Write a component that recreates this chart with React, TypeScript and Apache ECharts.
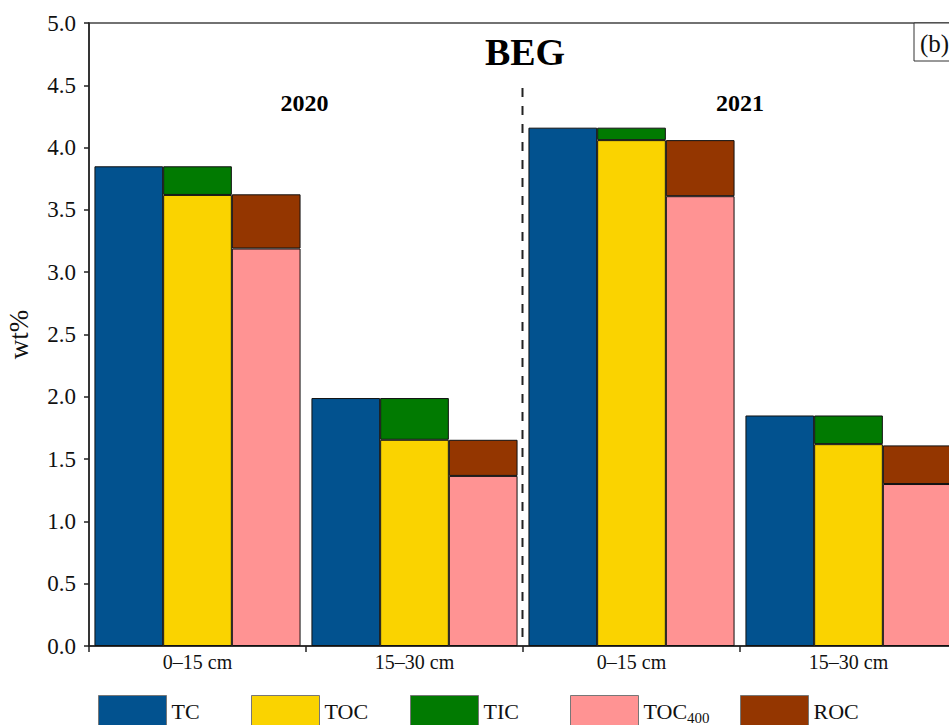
import React, { useEffect, useRef } from "react";
import * as echarts from "echarts";

// Soil carbon fractions (wt%) for the BEG site, two sampling years x two depths
const years = ["2020", "2021"];
const categories = ["2020|0–15 cm", "2020|15–30 cm", "2021|0–15 cm", "2021|15–30 cm"];

const tcValues = [3.85, 1.99, 4.16, 1.85];
const tocValues = [3.62, 1.655, 4.06, 1.62];
const ticValues = [0.23, 0.335, 0.1, 0.23];
const toc400Values = [3.19, 1.365, 3.61, 1.3];
const rocValues = [0.435, 0.29, 0.45, 0.31];

const yTicks = { min: 0, max: 5, interval: 0.5 };

const SERIF = "'Liberation Serif', 'Times New Roman', serif";

const COLORS = {
  TC: "#02528f",
  TOC: "#fad300",
  TIC: "#017a01",
  TOC400: "#ff9393",
  ROC: "#943600",
};

export default function App() {
  const ref = useRef<HTMLDivElement>(null);

  useEffect(() => {
    if (!ref.current) return;
    const chart = echarts.init(ref.current, undefined, { renderer: "svg" });

    const barWidth = 68.7;
    const barBase = {
      type: "bar" as const,
      barWidth,
      barGap: "0%",
      itemStyle: { borderColor: "#111", borderWidth: 1 },
    };

    const legendBase = {
      top: 695,
      padding: 0,
      itemWidth: 68,
      itemHeight: 32,
      icon: "rect",
      itemStyle: { borderColor: "#777", borderWidth: 1 },
      textStyle: {
        fontFamily: SERIF,
        fontSize: 22,
        color: "#111",
        rich: {
          m: { fontFamily: SERIF, fontSize: 22, color: "#111", verticalAlign: "middle" },
          s: { fontFamily: SERIF, fontSize: 15, color: "#111", verticalAlign: "bottom", lineHeight: 27 },
        },
      },
      formatter: (name: string) => (name === "TOC400" ? "{m|TOC}{s|400}" : name),
    };

    chart.setOption({
      animation: false,
      backgroundColor: "#fff",
      title: {
        text: "BEG",
        left: 520,
        top: 28,
        textAlign: "center",
        textStyle: { fontFamily: SERIF, fontSize: 38, fontWeight: "bold", color: "#000" },
      },
      grid: {
        left: 89,
        right: 43,
        top: 23,
        bottom: 79,
        show: true,
        borderColor: "#444",
        borderWidth: 1.5,
        outerBoundsMode: "none",
      },
      legend: [
        { ...legendBase, left: 98, data: ["TC"] },
        { ...legendBase, left: 251, data: ["TOC"] },
        { ...legendBase, left: 410, data: ["TIC"] },
        { ...legendBase, left: 570, data: ["TOC400"] },
        { ...legendBase, left: 740, data: ["ROC"] },
      ],
      xAxis: {
        type: "category",
        data: categories,
        boundaryGap: true,
        axisLine: { show: true, lineStyle: { color: "#222", width: 1.5 } },
        axisTick: { show: true, length: 6, lineStyle: { color: "#222", width: 1.5 } },
        axisLabel: {
          margin: 6,
          fontFamily: SERIF,
          fontSize: 20,
          color: "#111",
          formatter: (v: string) => v.split("|")[1],
        },
        splitLine: { show: false },
      },
      yAxis: {
        type: "value",
        min: yTicks.min,
        max: yTicks.max,
        interval: yTicks.interval,
        name: "wt%",
        nameLocation: "middle",
        nameGap: 57,
        nameTextStyle: { fontFamily: SERIF, fontSize: 27, color: "#111" },
        axisLine: { show: true, lineStyle: { color: "#222", width: 1.5 } },
        axisTick: { show: true, length: 5, lineStyle: { color: "#222", width: 1.5 } },
        axisLabel: {
          margin: 13,
          fontFamily: SERIF,
          fontSize: 23,
          color: "#111",
          formatter: (v: number) => v.toFixed(1),
        },
        splitLine: { show: false },
      },
      series: [
        { ...barBase, name: "TC", data: tcValues, itemStyle: { ...barBase.itemStyle, color: COLORS.TC } },
        { ...barBase, name: "TOC", stack: "organic", data: tocValues, itemStyle: { ...barBase.itemStyle, color: COLORS.TOC } },
        { ...barBase, name: "TIC", stack: "organic", data: ticValues, itemStyle: { ...barBase.itemStyle, color: COLORS.TIC } },
        { ...barBase, name: "TOC400", stack: "residual", data: toc400Values, itemStyle: { ...barBase.itemStyle, color: COLORS.TOC400 } },
        { ...barBase, name: "ROC", stack: "residual", data: rocValues, itemStyle: { ...barBase.itemStyle, color: COLORS.ROC } },
      ],
      graphic: [
        // divider between sampling years
        {
          type: "line",
          shape: { x1: 522.5, y1: 88, x2: 522.5, y2: 646 },
          style: { stroke: "#222", lineWidth: 2, lineDash: [9, 9] },
          z: 10,
        },
        {
          type: "text",
          x: 304.5,
          y: 103,
          style: {
            text: years[0],
            fontFamily: SERIF,
            fontSize: 24,
            fontWeight: "bold",
            fill: "#000",
            align: "center",
            verticalAlign: "middle",
          },
        },
        {
          type: "text",
          x: 740,
          y: 103,
          style: {
            text: years[1],
            fontFamily: SERIF,
            fontSize: 24,
            fontWeight: "bold",
            fill: "#000",
            align: "center",
            verticalAlign: "middle",
          },
        },
        // panel tag
        {
          type: "rect",
          shape: { x: 914, y: 23, width: 60, height: 38 },
          style: { fill: "#fff", stroke: "#333", lineWidth: 1 },
        },
        {
          type: "text",
          x: 920,
          y: 43,
          style: {
            text: "(b)",
            fontFamily: SERIF,
            fontSize: 25,
            fill: "#111",
            align: "left",
            verticalAlign: "middle",
          },
        },
      ],
    });

    return () => chart.dispose();
  }, []);

  return (
    <div
      style={{
        position: "fixed",
        left: 0,
        top: 0,
        width: 949,
        height: 725,
        overflow: "hidden",
        background: "#fff",
      }}
    >
      <div ref={ref} style={{ width: 1000, height: 725 }} />
    </div>
  );
}
